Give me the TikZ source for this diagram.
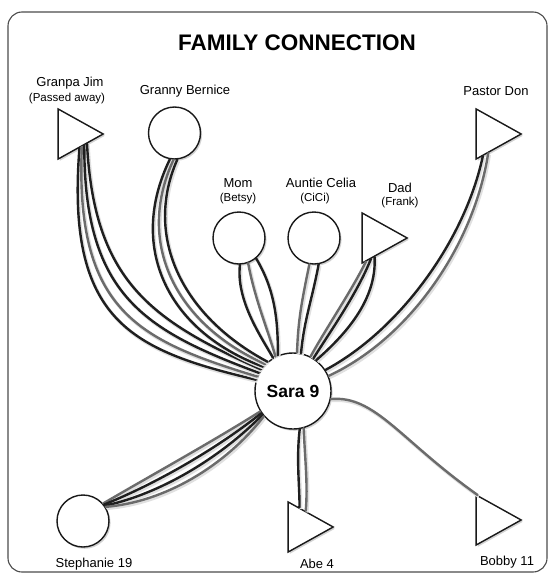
\documentclass[tikz,border=0pt]{standalone}
\usepackage{fontspec}
\setmainfont{Liberation Sans}
\usetikzlibrary{shapes.geometric,shadows}
\begin{document}
\begin{tikzpicture}[x=1pt,y=-1pt,
  nd/.style={draw=black!90, line width=1.4pt, fill=white, inner sep=0pt,
    drop shadow={shadow xshift=1.6pt, shadow yshift=-1.8pt, opacity=0.35}},
  circ/.style={nd, circle, minimum size=52pt},
  tri/.style={nd, isosceles triangle, isosceles triangle stretches,
    minimum width=50pt, minimum height=45pt, anchor=apex},
  lbl/.style={font=\fontsize{13}{15}\selectfont, inner sep=0pt},
  sublbl/.style={font=\fontsize{11.5}{13}\selectfont, inner sep=0pt},
  ln/.style={line width=2.4pt, line cap=round,
    preaction={draw=black!12, line width=3.2pt, transform canvas={shift={(1.2pt,-1.6pt)}}}},
  bk/.style={ln, draw=black!88},
  gy/.style={ln, draw=black!58}]
\fill[white] (0,0) rectangle (550,584);
\useasboundingbox (0,0) rectangle (550,584);
\draw[black!70, line width=1.1pt, rounded corners=14pt] (8,12) rectangle (547,572);
\node[font=\fontsize{22.5}{26}\selectfont\bfseries] (title) at (297,43) {FAMILY CONNECTION};

% people
\node[tri] (gj) at (105,134) {};
\node[circ] (gb) at (174.5,133) {};
\node[tri] (pd) at (523,134) {};
\node[circ] (mom) at (239,238) {};
\node[circ] (au) at (314,238) {};
\node[tri] (dad) at (409,238) {};
\node[circ] (st) at (83,521) {};
\node[tri] (abe) at (335,527) {};
\node[tri] (bb) at (523,520) {};

% labels
\node[lbl] (gjl) at (70,83) {Granpa Jim};
\node[sublbl] (gjs) at (67,99) {(Passed away)};
\node[lbl] (gbl) at (185,91) {Granny Bernice};
\node[lbl] (pdl) at (496,91) {Pastor Don};
\node[lbl] (moml) at (238,183) {Mom};
\node[sublbl] (moms) at (238,199) {(Betsy)};
\node[lbl] (aul) at (321,183) {Auntie Celia};
\node[sublbl] (aus) at (315,199) {(CiCi)};
\node[lbl] (dadl) at (400,188) {Dad};
\node[sublbl] (dads) at (400,203) {(Frank)};
\node[lbl] (stl) at (94,564) {Stephanie 19};
\node[lbl] (abel) at (317,564) {Abe 4};
\node[lbl] (bbl) at (507,562) {Bobby 11};

\node[circ, minimum size=76pt, font=\fontsize{17.5}{20}\selectfont\bfseries] (sara) at (293,391) {Sara 9};

% Granpa Jim
\draw[bk] (gj.-65) .. controls (66,320) and (130,350) .. (sara.163);
\draw[gy] (gj.-55) .. controls (75,310) and (137,340) .. (sara.158);
\draw[bk] (gj.-45) .. controls (84,295) and (144,330) .. (sara.152);
\draw[bk] (gj.-35) .. controls (94,280) and (150,320) .. (sara.146);
% Granny Bernice
\draw[bk] (gb.-100) .. controls (128,245) and (165,330) .. (sara.141);
\draw[gy] (gb.-92) .. controls (136,240) and (172,322) .. (sara.136);
\draw[bk] (gb.-84) .. controls (144,235) and (180,315) .. (sara.131);
% Mom
\draw[bk] (mom.-88) .. controls (236,300) and (260,335) .. (sara.121);
\draw[gy] (mom.-70) .. controls (255,300) and (268,330) .. (sara.117);
\draw[bk] (mom.-50) .. controls (275,290) and (278,320) .. (sara.113);
% Auntie Celia
\draw[gy] (au.-100) .. controls (302,300) and (298,320) .. (sara.84);
\draw[bk] (au.-80) .. controls (312,300) and (304,320) .. (sara.78);
% Dad
\draw[gy] (dad.-115) .. controls (352,290) and (325,330) .. (sara.63);
\draw[bk] (dad.-106) .. controls (358,292) and (330,332) .. (sara.58);
\draw[bk] (dad.-97) .. controls (377,300) and (345,335) .. (sara.53);
% Pastor Don
\draw[bk] (pd.-110) .. controls (465,240) and (400,330) .. (sara.33);
\draw[gy] (pd.-98) .. controls (474,245) and (410,338) .. (sara.23);
% Stephanie
\draw[gy] (st.41) .. controls (150,476) and (210,443) .. (sara.212);
\draw[bk] (st.38) .. controls (155,484) and (215,450) .. (sara.215);
\draw[bk] (st.35) .. controls (160,494) and (220,458) .. (sara.218);
\draw[gy] (st.32) .. controls (165,502) and (225,466) .. (sara.221);
% Abe
\draw[bk] (sara.-80) .. controls (296,460) and (300,490) .. (abe.100);
\draw[gy] (sara.-74) .. controls (305,460) and (308,485) .. (abe.80);
% Bobby
\draw[gy] (sara.-12) .. controls (375,395) and (400,440) .. (bb.118);
\end{tikzpicture}
\end{document}
